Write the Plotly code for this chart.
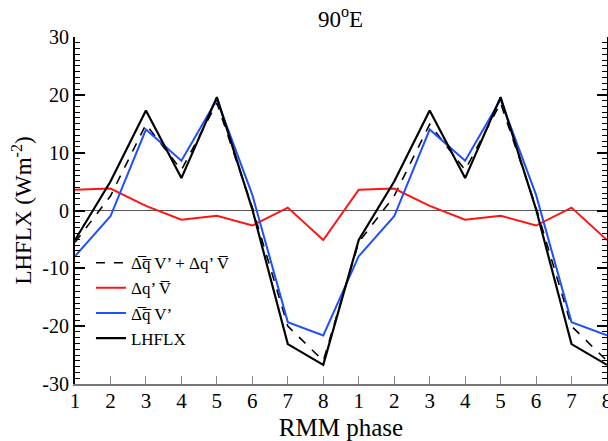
import plotly.graph_objects as go

phase_labels = ["1", "2", "3", "4", "5", "6", "7", "8"]
n_cycles = 2

lhflx = [-5.1, 5.0, 17.3, 5.6, 19.6, 0.2, -23.1, -26.7]
total_adv = [-5.5, 2.5, 14.9, 7.0, 18.6, 0.5, -20.0, -26.0]
dq_vbar = [3.6, 3.8, 0.8, -1.6, -0.9, -2.6, 0.5, -5.1]
dqbar_v = [-7.9, -1.0, 14.0, 8.6, 19.2, 2.7, -19.3, -21.6]

y_ticks = [-30, -20, -10, 0, 10, 20, 30]
y_ticktext = ["-30", "-20", "-10", "0", "10", "20", "30"]

x = list(range(len(phase_labels) * n_cycles))
ticktext = phase_labels * n_cycles

def rep(v):
    return v * n_cycles

font_family = "Liberation Serif"

fig = go.Figure()
fig.add_trace(go.Scatter(x=x, y=rep(total_adv), mode="lines",
                         name="\u0394\u0305q\u0305 V\u2019 + \u0394q\u2019 V\u0305",
                         line=dict(color="black", width=1.6, dash="dash")))
fig.add_trace(go.Scatter(x=x, y=rep(dq_vbar), mode="lines",
                         name="\u0394q\u2019 V\u0305",
                         line=dict(color="#ff1414", width=2)))
fig.add_trace(go.Scatter(x=x, y=rep(dqbar_v), mode="lines",
                         name="\u0394\u0305q\u0305 V\u2019",
                         line=dict(color="#1f4fff", width=2)))
fig.add_trace(go.Scatter(x=x, y=rep(lhflx), mode="lines",
                         name="LHFLX",
                         line=dict(color="black", width=2.2)))

fig.update_layout(
    width=608, height=441,
    margin=dict(l=75, r=1, t=37, b=57),
    paper_bgcolor="white", plot_bgcolor="white",
    font=dict(family=font_family, color="black"),
    title=dict(text="90<sup>o</sup>E", x=0.56, xanchor="center", y=0.958, yanchor="middle",
               font=dict(size=23, family=font_family)),
    showlegend=True,
    legend=dict(x=0.03, y=0.4, xanchor="left", yanchor="top",
                bgcolor="rgba(0,0,0,0)", font=dict(size=17, family=font_family),
                tracegroupgap=0, itemwidth=30),
    xaxis=dict(range=[0, len(x) - 1], tickmode="array", tickvals=x, ticktext=ticktext,
               ticks="inside", ticklen=8, tickcolor="#888", tickwidth=1,
               showline=True, linecolor="#777", linewidth=1.5, mirror=False,
               showgrid=False, zeroline=False, automargin=False,
               ticklabeloverflow="allow", ticklabelstandoff=-3,
               tickfont=dict(size=21, family=font_family),
               title=dict(text="RMM phase", font=dict(size=25, family=font_family), standoff=7)),
    xaxis2=dict(range=[0, len(x) - 1], overlaying="x", side="top", matches="x",
                tickmode="array", tickvals=x, showticklabels=False,
                ticks="inside", ticklen=8, tickcolor="#888", tickwidth=1,
                minor=dict(ticks="inside", ticklen=3, dtick=0.5, tickcolor="#888", tick0=0),
                showline=True, linecolor="#888", linewidth=1.5, automargin=False,
                showgrid=False, zeroline=False),
    yaxis=dict(range=[-30, 30], tickmode="array", tickvals=y_ticks, ticktext=y_ticktext,
               ticks="inside", ticklen=10, tickwidth=1.5, tickcolor="black",
               minor=dict(ticks="inside", ticklen=5, dtick=1, tickcolor="black", tickwidth=1.2),
               showline=True, linecolor="black", linewidth=2, mirror="ticks",
               showgrid=False, zeroline=True, zerolinecolor="#555", zerolinewidth=1,
               automargin=False, ticklabeloverflow="allow",
               tickfont=dict(size=20, family=font_family),
               title=dict(text="LHFLX (Wm<sup>-2</sup>)", font=dict(size=23, family=font_family), standoff=4)),
)

fig.write_html("out.html", config={"displayModeBar": False},
               post_script="document.body.style.margin='0';document.body.style.overflow='hidden';")
